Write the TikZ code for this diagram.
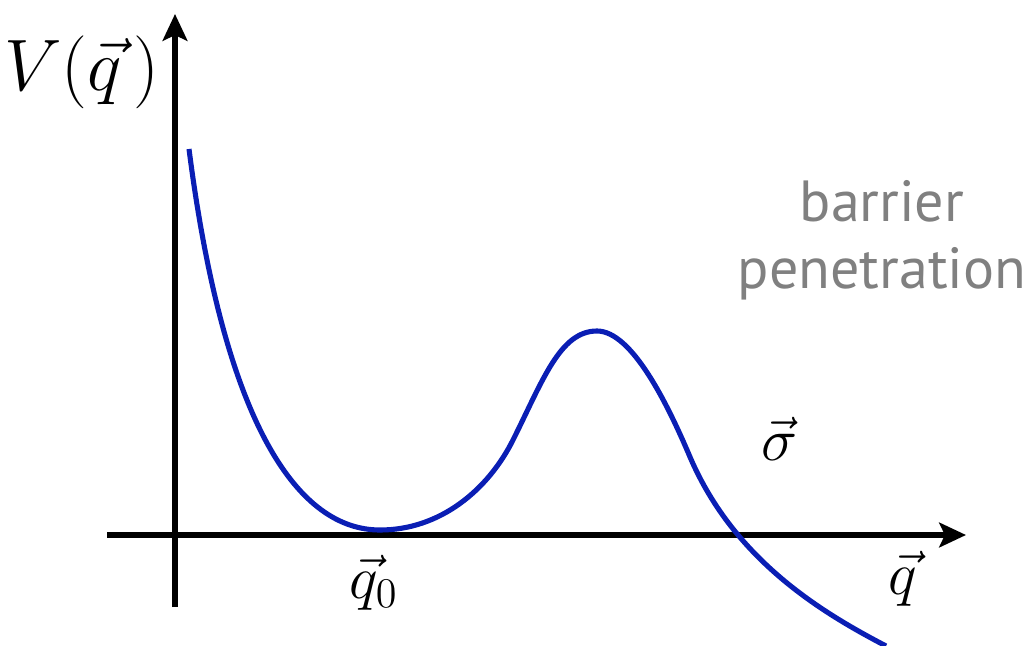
\documentclass[tikz,border=0pt]{standalone}
\usepackage{amsmath,amssymb}
\usepackage{xcolor}
\usepackage{fontspec}
\newfontfamily\labelfont{PT Sans}
\usepackage{tikz}
\usetikzlibrary{arrows.meta}
\usetikzlibrary{positioning}

\definecolor{curveblue}{HTML}{0A1EB4}
\definecolor{notegray}{HTML}{808080}

\begin{document}
\begin{tikzpicture}[
    x=0.01cm, y=-0.01cm,
    axis/.style={line width=1.45pt, -{Stealth[length=7.6pt, width=7pt, inset=1.6pt]}},
    potential/.style={line width=1.45pt, curveblue},
    math label/.style={font=\fontsize{17}{17}\selectfont, inner sep=0pt},
    note/.style={font=\labelfont\fontsize{16.5}{19}\selectfont, text=notegray, align=center, inner sep=0pt},
  ]

  \useasboundingbox (0,0) rectangle (1025,646);

  % axes
  \coordinate (ybot) at (175,607);
  \coordinate (ytop) at (175,14);
  \coordinate (xleft) at (107,535);
  \coordinate (xright) at (966,535);
  \draw[axis] (ybot) -- (ytop);
  \draw[axis] (xleft) -- (xright);

  % potential curve
  \coordinate (start) at (189,149);
  \coordinate (minimum) at (380,530);
  \coordinate (rise) at (513,440);
  \coordinate (peak) at (597,331);
  \coordinate (fall) at (690,457);
  \coordinate (tail) at (886,646);
  \draw[potential] (start)
      .. controls (225,430) and (300,530) .. (minimum)
      .. controls (440,530) and (488,490) .. (rise)
      .. controls (543,380) and (560,331) .. (peak)
      .. controls (632,331) and (668,405) .. (fall)
      .. controls (735,562) and (825,614) .. (tail);

  % labels
  \node[math label, font=\fontsize{19.5}{20}\selectfont] (V) at (82,72) {$V(\vec{q}\,)$};
  \node[math label] (q0) at (374,583) {$\vec{q}_0$};
  \node[math label] (q) at (903,579) {$\vec{q}$};
  \node[math label] (sigma) at (780,439) {$\vec{\sigma}$};
  \node[note] (barrier) at (882,240) {barrier\\penetration};

\end{tikzpicture}
\end{document}
